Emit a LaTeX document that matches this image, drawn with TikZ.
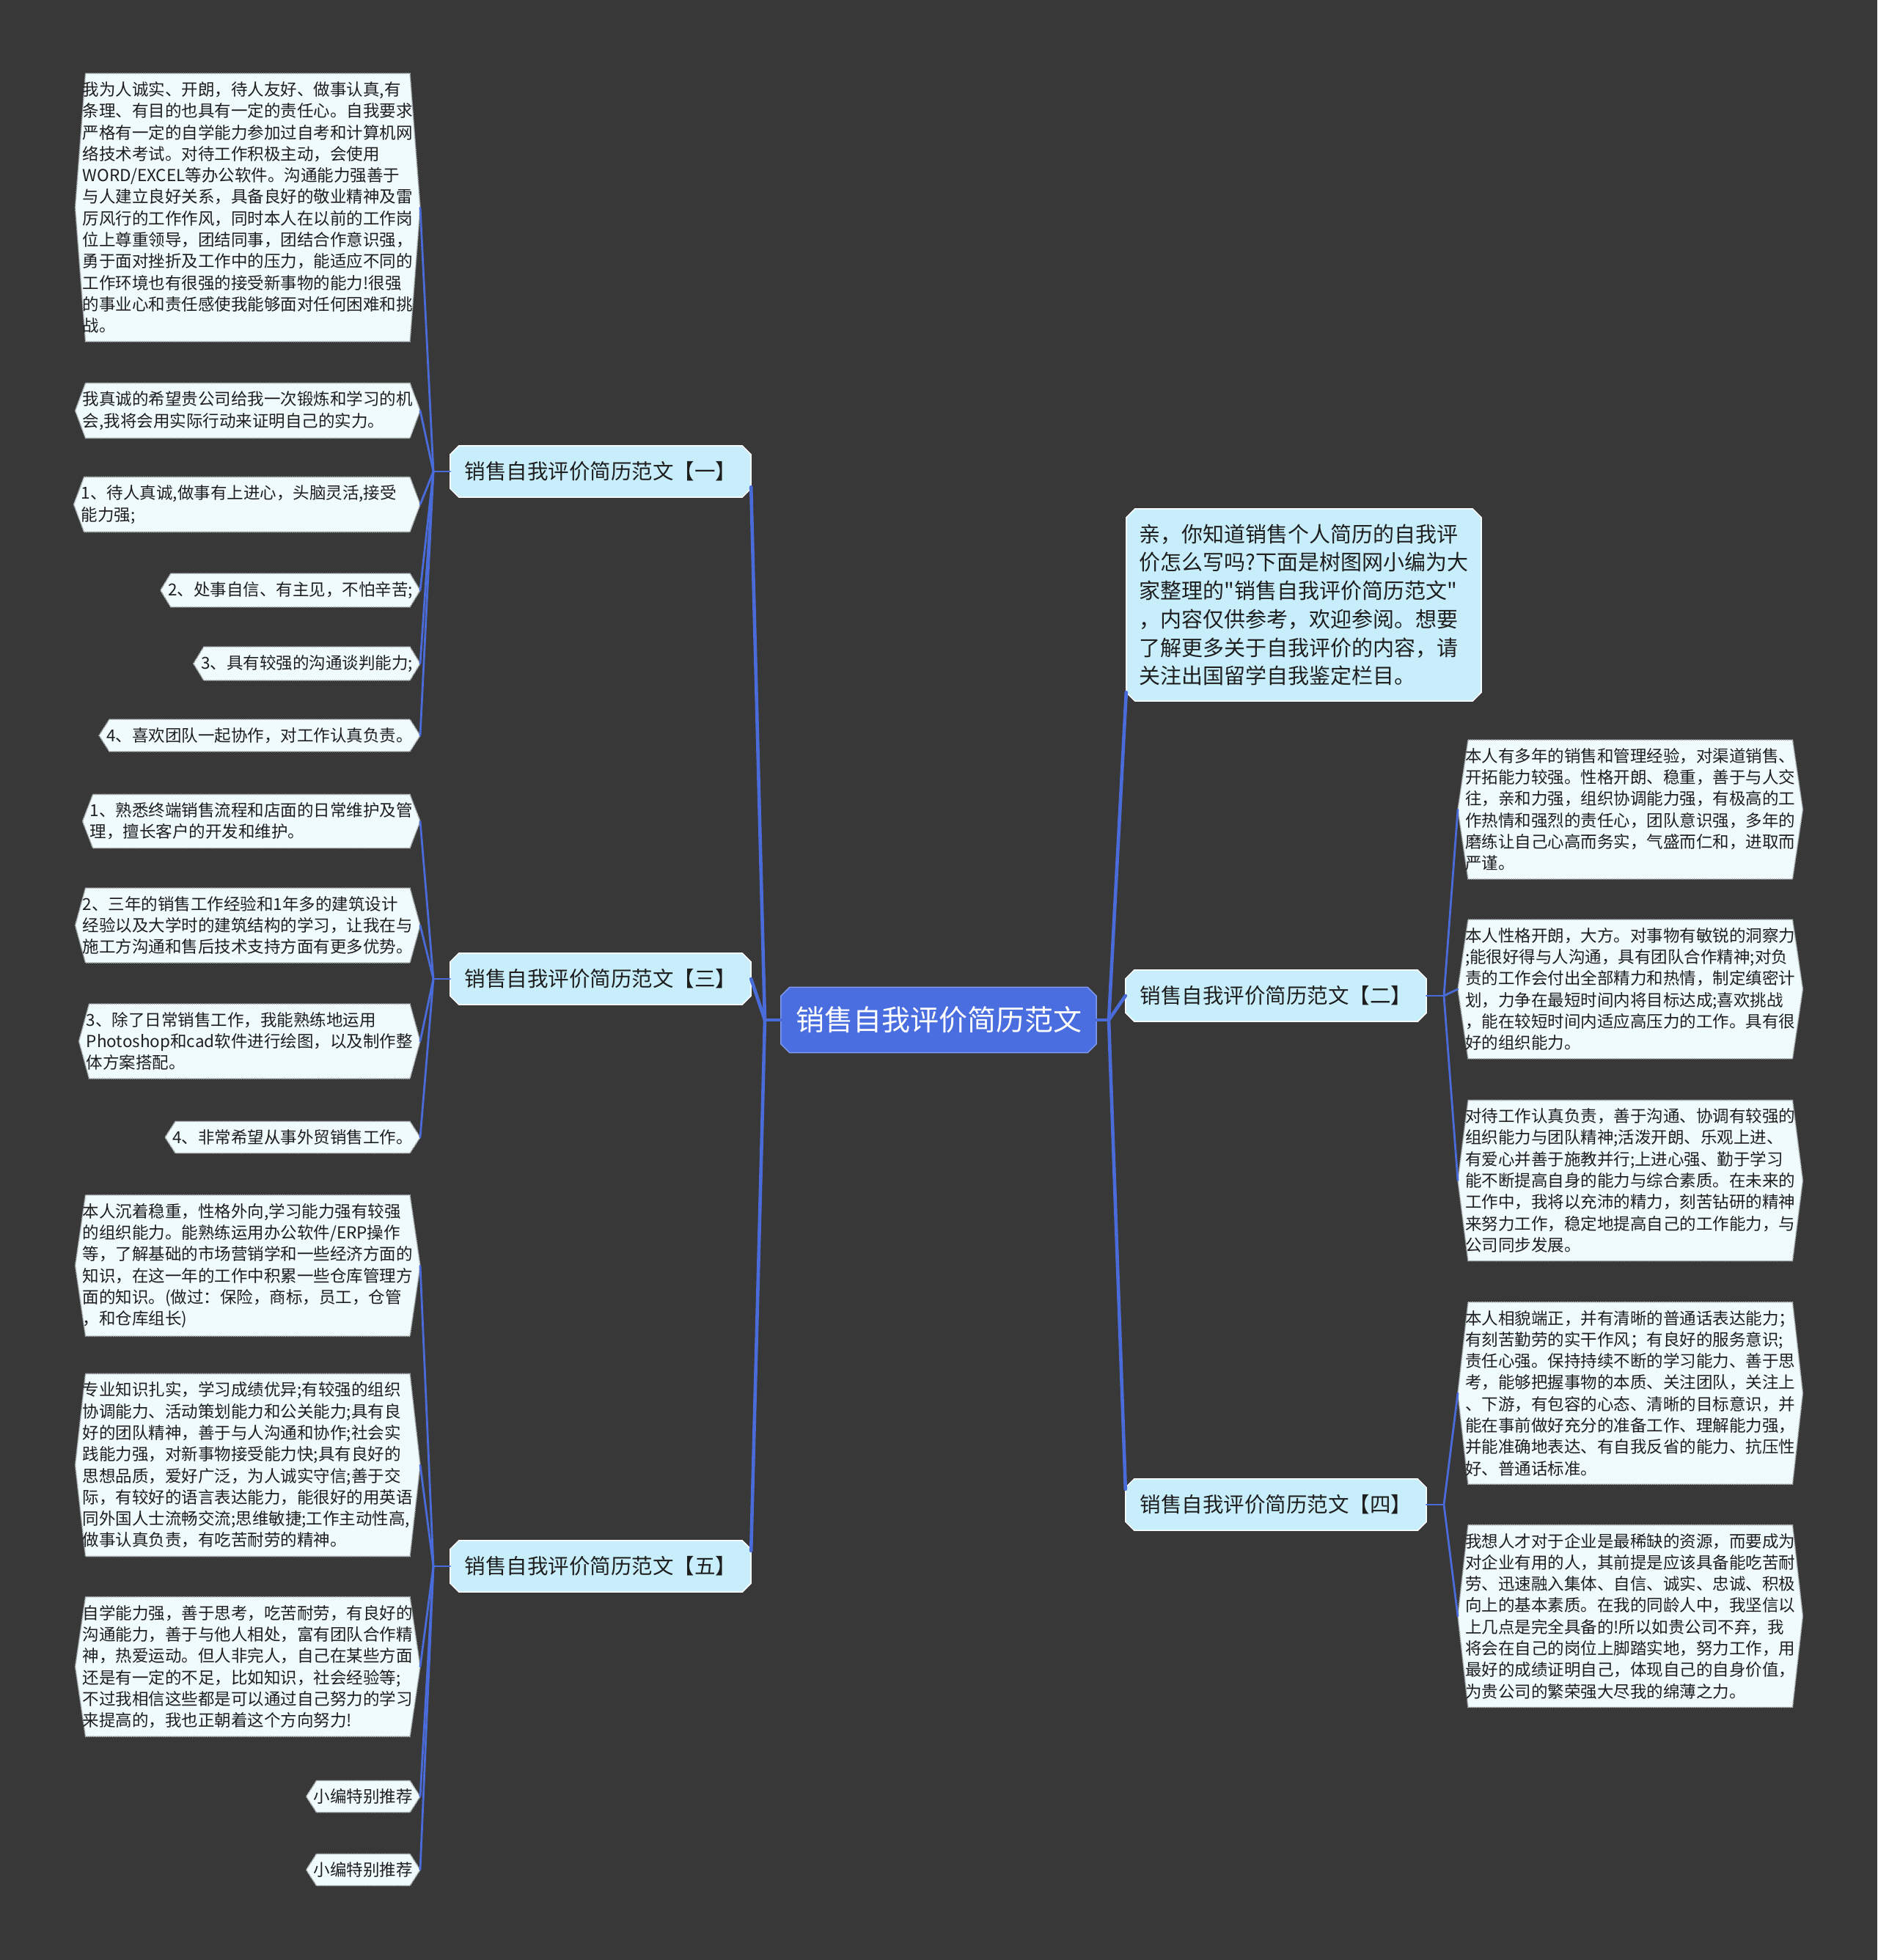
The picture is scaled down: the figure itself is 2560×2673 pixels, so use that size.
\documentclass[tikz,border=0pt]{standalone}
\usepackage{fontspec}
\newfontfamily\cjk{Noto Sans CJK SC}
\usetikzlibrary{backgrounds}
\definecolor{bgdark}{HTML}{393838}
\definecolor{linkblue}{HTML}{4A6CDA}
\definecolor{rootblue}{HTML}{4A6EE0}
\definecolor{rootedge}{HTML}{7F9AEE}
\definecolor{branchfill}{HTML}{C8EEFC}
\definecolor{leaffill}{HTML}{F0FBFD}
\definecolor{leafedge}{HTML}{AEB4B6}
\definecolor{inkdark}{HTML}{1E1E1E}
\newcommand\leaffont{\cjk\fontsize{22.5pt}{29.3pt}\selectfont}
\newcommand\branchfont{\cjk\fontsize{28.5pt}{34pt}\selectfont}
\newcommand\introfont{\cjk\fontsize{29pt}{38.7pt}\selectfont}
\newcommand\rootfont{\cjk\fontsize{39pt}{46pt}\selectfont}
\newcommand\hexbg[1]{\path[leafshape] ([xshift=4pt]#1.north west) -- ([xshift=-4pt]#1.north east) -- ([xshift=10pt]#1.east) -- ([xshift=-4pt]#1.south east) -- ([xshift=4pt]#1.south west) -- ([xshift=-10pt]#1.west) -- cycle;}
\newcommand\chambg[3]{\path[#3] ([xshift=#2]#1.north west) -- ([xshift=-#2]#1.north east) -- ([yshift=-#2]#1.north east) -- ([yshift=#2]#1.south east) -- ([xshift=-#2]#1.south east) -- ([xshift=#2]#1.south west) -- ([yshift=#2]#1.south west) -- ([yshift=-#2]#1.north west) -- cycle;}
\tikzset{
  leaf/.style={font=\leaffont, align=left, inner xsep=0pt, inner ysep=11pt, text=inkdark},
  branch/.style={font=\branchfont, minimum width=410pt, minimum height=70pt, inner sep=0pt, text=inkdark},
  intro/.style={font=\introfont, align=left, minimum width=484pt, minimum height=262pt, inner sep=0pt, text=inkdark},
  rootnode/.style={font=\rootfont, minimum width=430pt, minimum height=89pt, inner sep=0pt, text=white},
  leafshape/.style={fill=leaffill, draw=leafedge, line width=1.6pt, densely dotted},
  branchshape/.style={fill=branchfill, draw=white, line width=1.5pt},
  rootshape/.style={fill=rootblue, draw=rootedge, line width=1.5pt},
  rootlink/.style={draw=linkblue, line width=4.6pt, line cap=round},
  leaflink/.style={draw=linkblue, line width=2.8pt, line cap=round},
}
\begin{document}
\begin{tikzpicture}[x=1pt, y=-1pt]
\useasboundingbox (0,0) rectangle (2560,2673);
% root and branches
\node[rootnode] (root) at (1280,1391) {销售自我评价简历范文};
\node[branch] (b1) at (819,643) {销售自我评价简历范文【一】};
\node[branch] (b3) at (819,1335) {销售自我评价简历范文【三】};
\node[branch] (b5) at (819,2136) {销售自我评价简历范文【五】};
\node[branch] (b2) at (1740,1358) {销售自我评价简历范文【二】};
\node[branch] (b4) at (1740,2052) {销售自我评价简历范文【四】};
\node[intro] (intro) at (1778,825) {亲，你知道销售个人简历的自我评\\价怎么写吗?下面是树图网小编为大\\家整理的"销售自我评价简历范文"\\，内容仅供参考，欢迎参阅。想要\\了解更多关于自我评价的内容，请\\关注出国留学自我鉴定栏目。};
% left leaves, branch one
\node[leaf, anchor=east] (l1a) at (563,283) {我为人诚实、开朗，待人友好、做事认真,有\\条理、有目的也具有一定的责任心。自我要求\\严格有一定的自学能力参加过自考和计算机网\\络技术考试。对待工作积极主动，会使用\\WORD/EXCEL等办公软件。沟通能力强善于\\与人建立良好关系，具备良好的敬业精神及雷\\厉风行的工作作风，同时本人在以前的工作岗\\位上尊重领导，团结同事，团结合作意识强，\\勇于面对挫折及工作中的压力，能适应不同的\\工作环境也有很强的接受新事物的能力!很强\\的事业心和责任感使我能够面对任何困难和挑\\战。};
\node[leaf, anchor=east] (l1b) at (563,560) {我真诚的希望贵公司给我一次锻炼和学习的机\\会,我将会用实际行动来证明自己的实力。};
\node[leaf, anchor=east, text width=452pt] (l1c) at (563,688) {1、待人真诚,做事有上进心，头脑灵活,接受\\能力强;};
\node[leaf, anchor=east] (l1d) at (563,805) {2、处事自信、有主见，不怕辛苦;};
\node[leaf, anchor=east] (l1e) at (563,905) {3、具有较强的沟通谈判能力;};
\node[leaf, anchor=east] (l1f) at (563,1003) {4、喜欢团队一起协作，对工作认真负责。};
% branch three
\node[leaf, anchor=east] (l3a) at (563,1120) {1、熟悉终端销售流程和店面的日常维护及管\\理，擅长客户的开发和维护。};
\node[leaf, anchor=east] (l3b) at (563,1262) {2、三年的销售工作经验和1年多的建筑设计\\经验以及大学时的建筑结构的学习，让我在与\\施工方沟通和售后技术支持方面有更多优势。};
\node[leaf, anchor=east] (l3c) at (563,1420) {3、除了日常销售工作，我能熟练地运用\\Photoshop和cad软件进行绘图，以及制作整\\体方案搭配。};
\node[leaf, anchor=east] (l3d) at (563,1551) {4、非常希望从事外贸销售工作。};
% branch five
\node[leaf, anchor=east] (l5a) at (563,1726) {本人沉着稳重，性格外向,学习能力强有较强\\的组织能力。能熟练运用办公软件/ERP操作\\等，了解基础的市场营销学和一些经济方面的\\知识，在这一年的工作中积累一些仓库管理方\\面的知识。(做过：保险，商标，员工，仓管\\，和仓库组长)};
\node[leaf, anchor=east] (l5b) at (563,1998) {专业知识扎实，学习成绩优异;有较强的组织\\协调能力、活动策划能力和公关能力;具有良\\好的团队精神，善于与人沟通和协作;社会实\\践能力强，对新事物接受能力快;具有良好的\\思想品质，爱好广泛，为人诚实守信;善于交\\际，有较好的语言表达能力，能很好的用英语\\同外国人士流畅交流;思维敏捷;工作主动性高,\\做事认真负责，有吃苦耐劳的精神。};
\node[leaf, anchor=east] (l5c) at (563,2273) {自学能力强，善于思考，吃苦耐劳，有良好的\\沟通能力，善于与他人相处，富有团队合作精\\神，热爱运动。但人非完人，自己在某些方面\\还是有一定的不足，比如知识，社会经验等;\\不过我相信这些都是可以通过自己努力的学习\\来提高的，我也正朝着这个方向努力!};
\node[leaf, anchor=east] (l5d) at (563,2450) {小编特别推荐};
\node[leaf, anchor=east] (l5e) at (563,2550) {小编特别推荐};
% right leaves, branch two
\node[leaf, anchor=west] (r2a) at (1998,1104) {本人有多年的销售和管理经验，对渠道销售、\\开拓能力较强。性格开朗、稳重，善于与人交\\往，亲和力强，组织协调能力强，有极高的工\\作热情和强烈的责任心，团队意识强，多年的\\磨练让自己心高而务实，气盛而仁和，进取而\\严谨。};
\node[leaf, anchor=west] (r2b) at (1998,1349) {本人性格开朗，大方。对事物有敏锐的洞察力\\;能很好得与人沟通，具有团队合作精神;对负\\责的工作会付出全部精力和热情，制定缜密计\\划，力争在最短时间内将目标达成;喜欢挑战\\，能在较短时间内适应高压力的工作。具有很\\好的组织能力。};
\node[leaf, anchor=west] (r2c) at (1998,1610) {对待工作认真负责，善于沟通、协调有较强的\\组织能力与团队精神;活泼开朗、乐观上进、\\有爱心并善于施教并行;上进心强、勤于学习\\能不断提高自身的能力与综合素质。在未来的\\工作中，我将以充沛的精力，刻苦钻研的精神\\来努力工作，稳定地提高自己的工作能力，与\\公司同步发展。};
% branch four
\node[leaf, anchor=west] (r4a) at (1998,1900) {本人相貌端正，并有清晰的普通话表达能力；\\有刻苦勤劳的实干作风；有良好的服务意识;\\责任心强。保持持续不断的学习能力、善于思\\考，能够把握事物的本质、关注团队，关注上\\、下游，有包容的心态、清晰的目标意识，并\\能在事前做好充分的准备工作、理解能力强，\\并能准确地表达、有自我反省的能力、抗压性\\好、普通话标准。};
\node[leaf, anchor=west] (r4b) at (1998,2204) {我想人才对于企业是最稀缺的资源，而要成为\\对企业有用的人，其前提是应该具备能吃苦耐\\劳、迅速融入集体、自信、诚实、忠诚、积极\\向上的基本素质。在我的同龄人中，我坚信以\\上几点是完全具备的!所以如贵公司不弃，我\\将会在自己的岗位上脚踏实地，努力工作，用\\最好的成绩证明自己，体现自己的自身价值，\\为贵公司的繁荣强大尽我的绵薄之力。};
% junction points
\coordinate (jl) at (1043,1391);
\coordinate (jr) at (1512,1391);
\coordinate (s1) at (591,643);
\coordinate (s3) at (591,1335);
\coordinate (s5) at (591,2136);
\coordinate (s2) at (1969,1358);
\coordinate (s4) at (1969,2052);
% backgrounds of shapes
\begin{scope}[on background layer]
  \fill[bgdark] (0,0) rectangle (2560,2673);
  \chambg{root}{12pt}{rootshape}
  \foreach \n in {b1,b2,b3,b4,b5,intro} {\chambg{\n}{12pt}{branchshape}}
  \foreach \n in {l1a,l1b,l1c,l1d,l1e,l1f,l3a,l3b,l3c,l3d,l5a,l5b,l5c,l5d,l5e,r2a,r2b,r2c,r4a,r4b} {\hexbg{\n}}
\end{scope}
% root connectors
\draw[rootlink] (root.west) -- (jl);
\draw[rootlink] (root.east) -- (jr);
\draw[rootlink] (jl) -- ([yshift=14pt]b1.south east);
\draw[rootlink] (jl) -- (b3.east);
\draw[rootlink] (jl) -- ([yshift=-14pt]b5.north east);
\draw[rootlink] (jr) -- ([yshift=12pt]intro.south west);
\draw[rootlink] (jr) -- (b2.west);
\draw[rootlink] (jr) -- ([yshift=-14pt]b4.north west);
% branch to leaf connectors
\draw[leaflink] (b1.west) -- (s1);
\draw[leaflink] (b3.west) -- (s3);
\draw[leaflink] (b5.west) -- (s5);
\draw[leaflink] (b2.east) -- (s2);
\draw[leaflink] (b4.east) -- (s4);
\foreach \l in {l1a,l1b,l1c,l1d,l1e,l1f} {\draw[leaflink] (s1) -- ([xshift=10pt]\l.east);}
\foreach \l in {l3a,l3b,l3c,l3d} {\draw[leaflink] (s3) -- ([xshift=10pt]\l.east);}
\foreach \l in {l5a,l5b,l5c,l5d,l5e} {\draw[leaflink] (s5) -- ([xshift=10pt]\l.east);}
\foreach \l in {r2a,r2b,r2c} {\draw[leaflink] (s2) -- ([xshift=-10pt]\l.west);}
\foreach \l in {r4a,r4b} {\draw[leaflink] (s4) -- ([xshift=-10pt]\l.west);}
\end{tikzpicture}
\end{document}
